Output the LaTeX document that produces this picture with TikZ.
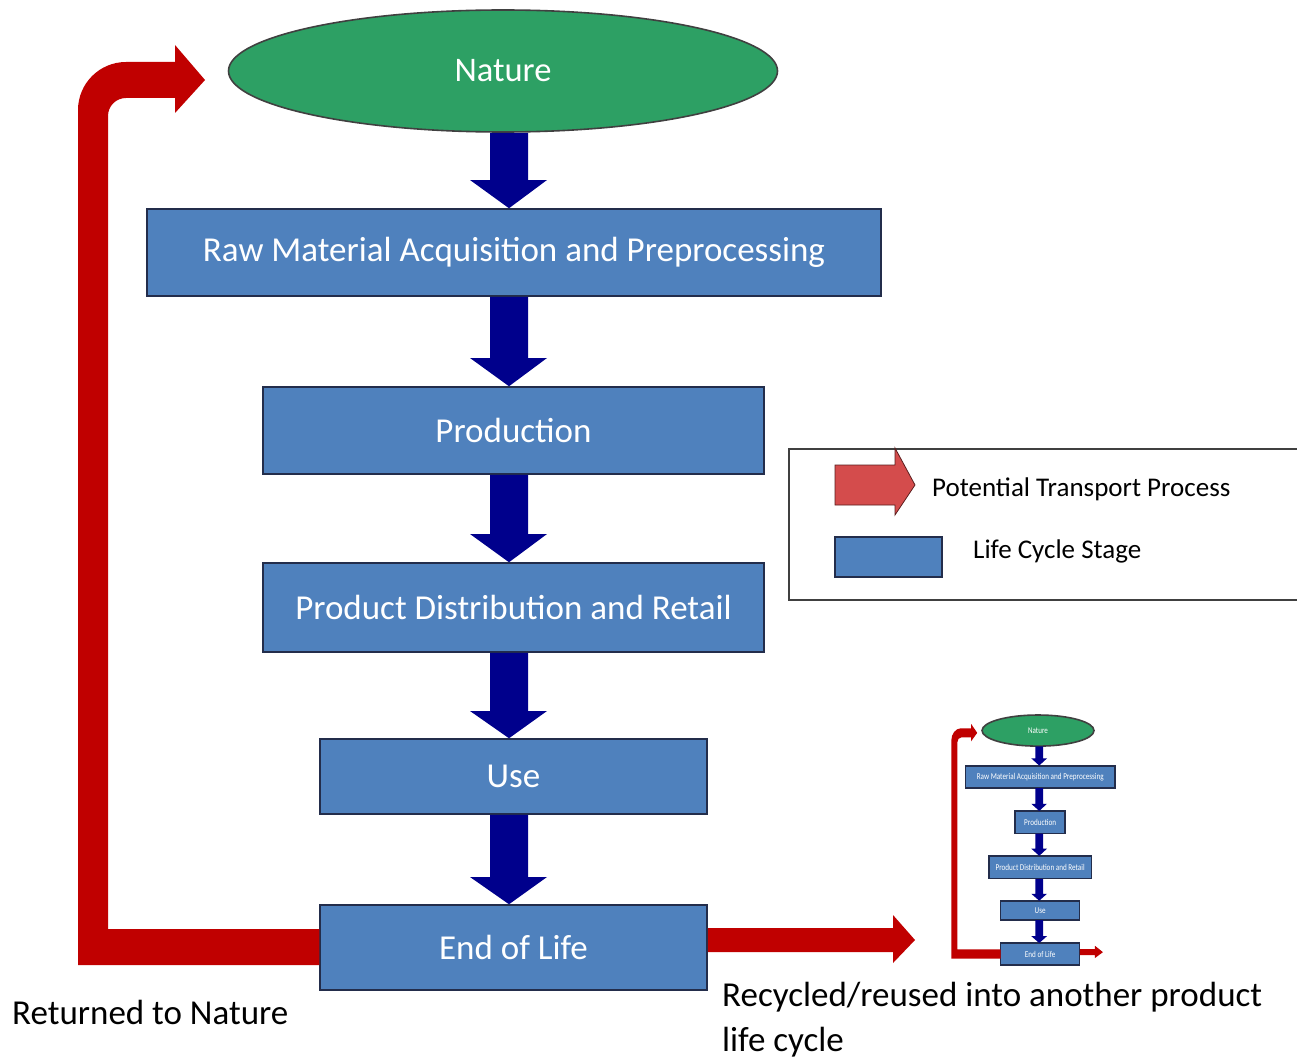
\documentclass[tikz,border=0pt]{standalone}
\usepackage{fontspec}
\setmainfont{Carlito}
\usetikzlibrary{shapes.geometric}
\definecolor{stageblue}{RGB}{79,129,189}
\definecolor{stageline}{RGB}{35,45,75}
\definecolor{navyarrow}{RGB}{0,0,140}
\definecolor{natgreen}{RGB}{45,160,100}
\definecolor{transred}{RGB}{192,0,0}
\definecolor{legred}{RGB}{212,76,76}
\definecolor{legredline}{RGB}{90,30,30}
\tikzset{
  stagebox/.style={draw=stageline, line width=1.5pt, fill=stageblue, text=white, inner sep=0pt,
    font=\fontsize{35}{40}\selectfont},
  naturenode/.style={ellipse, draw=black!75, line width=1.6pt, fill=natgreen, text=white, inner sep=0pt,
    minimum width=549pt, minimum height=122pt, font=\fontsize{34.5}{40}\selectfont},
  downarrow/.style={fill=navyarrow},
  redflow/.style={fill=transred},
  labeltext/.style={text=black, inner sep=0pt, anchor=west},
}
% #1 prefix, #2 from node, #3 to node, #4 y of head base
\newcommand\lcarrow[4]{%
  \coordinate (#1#2hb) at (509,#4);
  \fill[downarrow] (#1sl |- #1#2.south) -- (#1sl |- #1#2hb) -- (#1hl |- #1#2hb) -- (#1c |- #1#3.north)
    -- (#1hr |- #1#2hb) -- (#1sr |- #1#2hb) -- (#1sr |- #1#2.south) -- cycle;}
% #1 prefix, #2 right arrow tip x, #3 right arrow head base x, #4 production box width
\newcommand\lifecycle[4]{%
  \coordinate (#1sl) at (490,0); \coordinate (#1sr) at (528,0);
  \coordinate (#1hl) at (470,0); \coordinate (#1hr) at (547,0);
  \coordinate (#1c) at (509,0);
  \node[naturenode] (#1nat) at (503,71) {Nature};
  \node[stagebox, minimum width=734pt, minimum height=87pt] (#1raw) at (514,252.5) {Raw Material Acquisition and Preprocessing};
  \node[stagebox, minimum width=#4, minimum height=87pt] (#1prod) at (513.5,430.5) {Production};
  \node[stagebox, minimum width=501pt, minimum height=89pt] (#1dist) at (513.5,607.5) {Product Distribution and Retail};
  \node[stagebox, minimum width=387pt, minimum height=75pt] (#1use) at (513.5,776.5) {Use};
  \node[stagebox, minimum width=387pt, minimum height=85pt] (#1eol) at (513.5,947.5) {End of Life};
  \lcarrow{#1}{nat}{raw}{180}
  \lcarrow{#1}{raw}{prod}{358}
  \lcarrow{#1}{prod}{dist}{534}
  \lcarrow{#1}{dist}{use}{711}
  \lcarrow{#1}{use}{eol}{877}
  \coordinate (#1la) at (0,929); \coordinate (#1lb) at (0,965);
  \fill[redflow] (#1eol.west |- #1la) -- (108,929) -- (108,116) .. controls (108,106) and (116,98) .. (126,98)
    -- (175,98) -- (175,113) -- (205,80) coordinate (#1ret) -- (175,45) -- (175,62) -- (126,62)
    .. controls (99.4,62) and (78,83.6) .. (78,110) -- (78,965) -- (#1eol.west |- #1lb) -- cycle;
  \coordinate (#1ra) at (0,928); \coordinate (#1rb) at (0,952);
  \fill[redflow] (#1eol.east |- #1ra) -- (#3,928) -- (#3,915) -- (#2,940) coordinate (#1out)
    -- (#3,963) -- (#3,952) -- (#1eol.east |- #1rb) -- cycle;
}
\begin{document}
\begin{tikzpicture}[x=1pt, y=-1pt]
\useasboundingbox (0,0) rectangle (1297,1062);
\clip (0,0) rectangle (1297,1062);
\fill[white] (0,0) rectangle (1297,1062);

% main life cycle
\lifecycle{}{915}{893}{501pt}

% miniature copy
\begin{scope}[shift={(935.4,712.45)}, xscale=0.204, yscale=0.255, transform shape]
  \lifecycle{m}{821}{782}{245pt}
\end{scope}

% legend
\node[draw=black!75, line width=1.2pt, minimum width=521pt, minimum height=151pt, inner sep=0pt] (legend) at (1049.5,524.5) {};
\filldraw[fill=legred, draw=legredline, line width=0.8pt] (835,465) -- (895,465) -- (895,448) -- (915,485) -- (895,515) -- (895,505) -- (835,505) -- cycle;
\node[draw=stageline, line width=1.2pt, fill=stageblue, minimum width=107pt, minimum height=40pt, inner sep=0pt] (legstage) at (888.5,557) {};
\node[labeltext, font=\fontsize{27}{30}\selectfont] (legtrans) at (932,489) {Potential Transport Process};
\node[labeltext, font=\fontsize{27}{30}\selectfont] (legstagetxt) at (973,551) {Life Cycle Stage};

% outcome labels
\node[labeltext, font=\fontsize{35}{40}\selectfont] (returned) at (12,1012) {Returned to Nature};
\node[labeltext, align=left, font=\fontsize{35}{45}\selectfont] (recycled) at (722,1020) {Recycled/reused into another product\\life cycle};
\end{tikzpicture}
\end{document}
